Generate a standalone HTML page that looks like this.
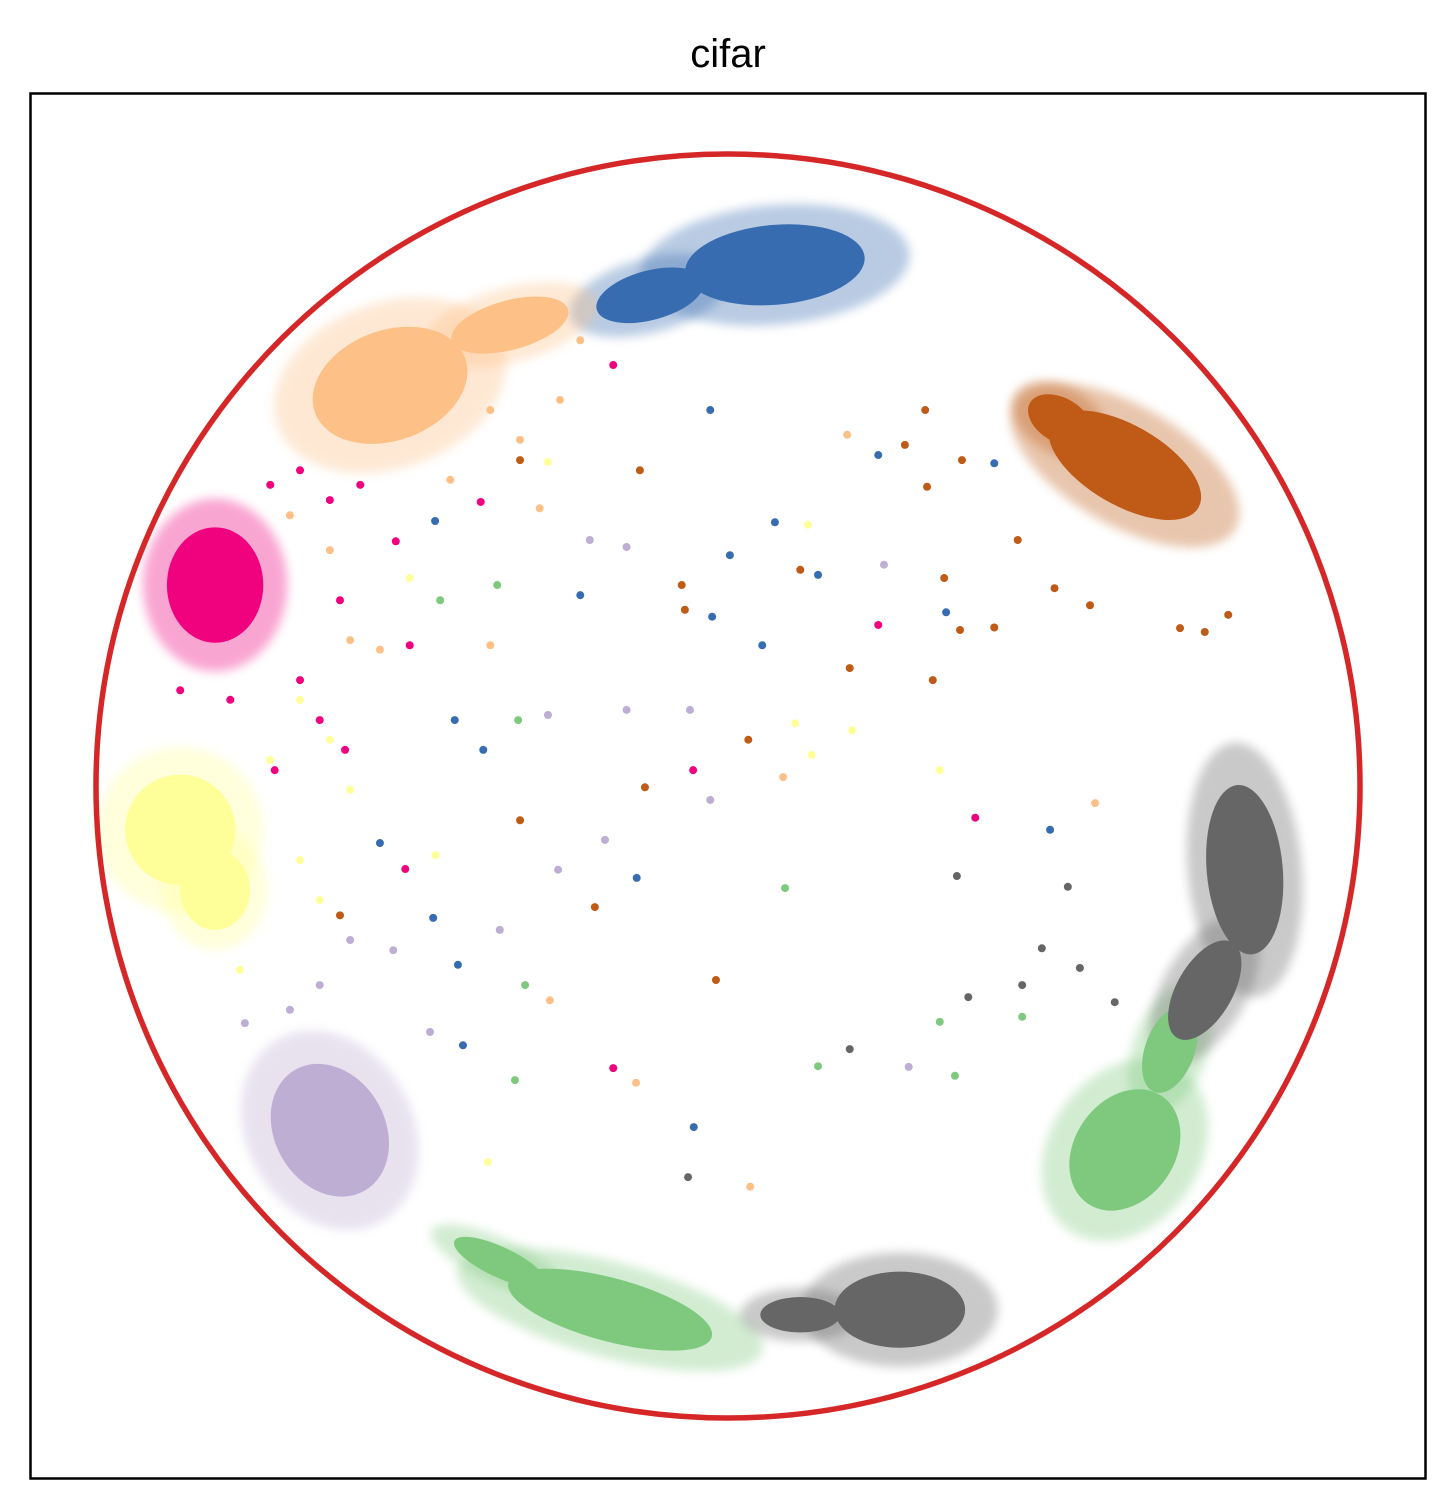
<!DOCTYPE html>
<html><head><meta charset="utf-8"><style>
body{margin:0;background:#fff;}
svg{display:block;}
</style></head><body>
<svg id="chart" width="1455" height="1509" viewBox="0 0 1455 1509" xmlns="http://www.w3.org/2000/svg">
<defs><filter id="soft" x="-50%" y="-50%" width="200%" height="200%"><feGaussianBlur stdDeviation="5"/></filter></defs>
<text x="728" y="67" text-anchor="middle" font-family="Liberation Sans, sans-serif" font-size="40" fill="#000">cifar</text>
<rect x="30.5" y="93.5" width="1395" height="1385" fill="#fff" stroke="#000" stroke-width="2.5"/>
<g id="halos"></g><g id="cores"></g><g id="pts"></g>
<circle cx="728" cy="786" r="632" fill="none" stroke="#d62728" stroke-width="5.5"/>
</svg>
<script>
const colors = {b:'#386cb0', p:'#fdc086', br:'#bf5b17', m:'#f0027f', y:'#ffff99', l:'#beaed4', g:'#7fc97f', gr:'#666666'};
const clusterNames = ['blue-main','blue-tail','peach-main','peach-tail','brown-main','brown-upper','magenta','yellow-main','yellow-lower','lavender','green-bottom','green-bottom-left','green-right','green-chain','gray-right','gray-chain','gray-bottom','gray-bottom-tail'];
const clusterX = [0.074,-0.123,-0.533,-0.344,0.626,0.524,-0.809,-0.864,-0.809,-0.628,-0.186,-0.36,0.626,0.697,0.815,0.752,0.271,0.114];
const clusterY = [0.822,0.774,0.632,0.727,0.506,0.577,0.317,-0.069,-0.164,-0.543,-0.826,-0.751,-0.574,-0.416,-0.132,-0.322,-0.826,-0.834];
const clusterRx = [0.142,0.087,0.126,0.095,0.134,0.055,0.076,0.087,0.055,0.087,0.166,0.079,0.079,0.039,0.06,0.044,0.103,0.063];
const clusterRy = [0.063,0.039,0.087,0.039,0.063,0.035,0.091,0.087,0.063,0.11,0.05,0.024,0.103,0.071,0.134,0.087,0.06,0.028];
const clusterRot = [-5,-15,-20,-15,30,30,0,0,0,-30,15,25,35,20,-5,30,0,0];
const clusterC = ['b','b','p','p','br','br','m','y','y','l','g','g','g','g','gr','gr','gr','gr'];
const ptX = [-0.181,-0.028,-0.139,0.074,-0.297,-0.364,-0.233,-0.068,0.054,0.237,0.341,0.192,0.334,0.39,0.508,0.579,0.361,0.09,-0.019,-0.281,-0.145,-0.054,0.192,0.142,0.334,0.464,0.285,0.358,-0.063,0.035,-0.379,-0.181,-0.336,-0.418,-0.47,-0.32,-0.426,-0.36,-0.21,-0.268,-0.144,-0.194,-0.131,-0.055,-0.028,0.087,0.132,0.032,0.106,0.196,-0.06,-0.16,-0.284,-0.331,-0.386,-0.431,-0.328,-0.461,-0.549,-0.509,-0.612,-0.465,-0.528,-0.502,-0.454,-0.502,-0.524,-0.462,-0.39,-0.328,-0.284,-0.218,-0.16,-0.073,-0.025,0.003,0.126,0.114,0.142,0.246,0.188,0.279,0.237,0.311,0.369,0.42,0.314,0.344,0.323,0.366,0.42,0.457,0.515,0.571,0.713,0.752,0.789,0.536,0.495,0.555,0.464,0.379,0.61,-0.596,-0.644,-0.691,-0.762,-0.675,-0.628,-0.722,-0.596,-0.675,-0.644,-0.77,-0.864,-0.785,-0.675,-0.644,-0.604,-0.715,-0.612,-0.675,-0.628,-0.722,-0.58,-0.691,-0.628,-0.375,-0.328,-0.265,-0.438,-0.233,-0.596,-0.549,-0.375];
const ptY = [0.664,0.593,0.498,0.416,0.438,0.317,0.301,0.278,0.222,0.254,0.328,0.186,0.025,-0.05,-0.069,-0.027,-0.142,-0.161,-0.306,-0.338,-0.468,-0.538,-0.415,-0.442,-0.372,-0.364,-0.443,-0.457,-0.617,-0.632,-0.593,-0.445,-0.464,-0.409,-0.388,-0.314,-0.282,-0.227,-0.191,-0.132,-0.145,-0.085,-0.002,0.025,-0.022,0.014,0.049,0.073,0.099,0.088,0.12,0.12,0.112,0.104,0.057,0.104,-0.054,-0.109,-0.09,-0.131,-0.204,-0.208,-0.259,0.222,0.293,0.328,0.386,0.418,0.448,0.514,0.511,0.388,0.377,0.317,0.267,0.364,0.412,0.341,0.333,0.349,0.554,0.538,0.522,0.593,0.514,0.509,0.472,0.274,0.167,0.246,0.25,0.388,0.312,0.285,0.249,0.243,0.27,-0.159,-0.256,-0.287,-0.314,-0.333,-0.341,-0.243,-0.314,-0.353,-0.374,0.136,0.073,0.041,-0.006,-0.117,-0.18,-0.29,0.151,0.136,0.167,0.104,0.057,0.025,0.293,0.498,0.451,0.475,0.475,0.427,0.372,0.593,0.546,0.609,0.483,0.703,0.23,0.215,0.222];
const ptC = ['m','b','br','b','p','g','b','br','b','m','br','br','y','m','b','p','gr','g','br','p','p','b','gr','g','g','g','l','g','gr','p','y','m','g','b','l','g','b','l','br','l','b','l','br','m','l','p','y','br','y','y','l','l','l','g','b','b','br','y','b','m','br','b','l','m','g','y','m','b','m','br','y','l','l','br','b','b','y','br','b','l','p','br','b','br','br','b','br','b','br','br','br','br','br','br','br','br','br','gr','gr','gr','gr','gr','gr','l','l','l','l','y','y','y','y','y','y','y','m','m','m','m','m','m','m','m','m','m','m','p','p','p','p','p','p','p','p','p','p'];

const CX = 728, CY = 786, S = 634;
function sx(v){ return CX + v*S; }
function sy(v){ return CY - v*S; }
const NS = 'http://www.w3.org/2000/svg';
const halos = document.getElementById('halos'), cores = document.getElementById('cores'), pts = document.getElementById('pts');
for (let i = 0; i < clusterX.length; i++) {
  const x = sx(clusterX[i]), y = sy(clusterY[i]), rx = clusterRx[i]*S, ry = clusterRy[i]*S;
  const h = document.createElementNS(NS, 'ellipse');
  
  
  h.setAttribute('cx', x); h.setAttribute('cy', y);
  h.setAttribute('rx', rx*1.5); h.setAttribute('ry', ry*1.5);
  h.setAttribute('transform', `rotate(${clusterRot[i]} ${x} ${y})`);
  h.setAttribute('fill', colors[clusterC[i]]); h.setAttribute('opacity', '0.35');
  h.setAttribute('filter', 'url(#soft)');
  halos.appendChild(h);
  const e = document.createElementNS(NS, 'ellipse');
  
  
  e.setAttribute('cx', x); e.setAttribute('cy', y);
  e.setAttribute('rx', rx); e.setAttribute('ry', ry);
  e.setAttribute('transform', `rotate(${clusterRot[i]} ${x} ${y})`);
  e.setAttribute('fill', colors[clusterC[i]]);
  cores.appendChild(e);
}
for (let i = 0; i < ptX.length; i++) {
  const c = document.createElementNS(NS, 'circle');
  
  
  c.setAttribute('cx', sx(ptX[i])); c.setAttribute('cy', sy(ptY[i]));
  c.setAttribute('r', 4);
  c.setAttribute('fill', colors[ptC[i]]);
  pts.appendChild(c);
}
</script>
</body></html>
